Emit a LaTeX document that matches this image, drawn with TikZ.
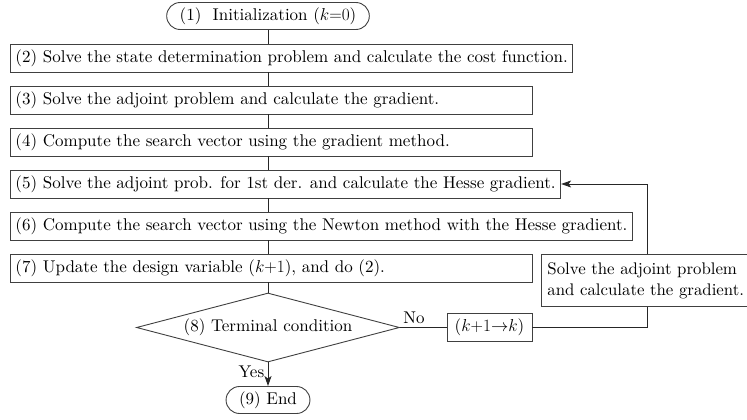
\documentclass[tikz,border=0pt]{standalone}
\usepackage{fontspec}
\setmainfont{lmroman10-regular.otf}[ItalicFont=lmroman10-italic.otf,BoldFont=lmroman10-bold.otf]
\usetikzlibrary{shapes.geometric,shapes.misc,arrows.meta}
% a step line: left aligned, padded to a common width unless it is longer
\newlength{\steplinewd}
\setlength{\steplinewd}{512pt}
\newcommand{\stepline}[1]{\setbox0=\hbox{#1}%
  \ifdim\wd0<\steplinewd \makebox[\steplinewd][l]{#1}\else\box0\fi}
\begin{document}
\begin{tikzpicture}[x=1pt,y=-1pt,
  font=\fontsize{17}{21}\selectfont,
  stepbox/.style={draw=black!75,line width=0.9pt,rectangle,anchor=west,
    minimum height=28pt,inner xsep=5pt,inner ysep=2pt},
  termbox/.style={draw=black!75,line width=0.9pt,rounded rectangle,
    minimum height=27pt,inner xsep=10pt},
  decide/.style={draw=black!75,line width=0.9pt,diamond,aspect=4,
    minimum width=263pt,minimum height=69pt,inner sep=0pt},
  link/.style={draw=black!85,line width=0.9pt},
  arr/.style={link,-{Stealth[length=10pt,width=7pt,inset=2.5pt]}}]
\useasboundingbox (0,0) rectangle (747,420);
\clip (0,0) rectangle (747,420);

% main column
\node[termbox] (n1) at (268,16) {(1)\ \ Initialization ($k{=}0$)};
\node[stepbox] (n2) at (10,58) {\stepline{(2) Solve the state determination problem and calculate the cost function.}};
\node[stepbox] (n3) at (10,100) {\stepline{(3) Solve the adjoint problem and calculate the gradient.}};
\node[stepbox] (n4) at (10,142) {\stepline{(4) Compute the search vector using the gradient method.}};
\node[stepbox] (n5) at (10,184) {\stepline{(5) Solve the adjoint prob. for 1st der. and calculate the Hesse gradient.}};
\node[stepbox] (n6) at (10,226) {\stepline{(6) Compute the search vector using the Newton method with the Hesse gradient.}};
\node[stepbox] (n7) at (10,268) {\stepline{(7) Update the design variable ($k{+}1$), and do (2).}};
\node[decide] (n8) at (268,327.5) {(8) Terminal condition};
\node[termbox] (n9) at (268,400) {(9) End};

% side branch
\node[stepbox,anchor=north west,align=left,minimum height=52pt,inner xsep=6pt,
  font=\fontsize{16.8}{21}\selectfont]
  (adj) at (541,254) {Solve the adjoint problem\\and calculate the gradient.};
\node[stepbox,anchor=center,minimum width=85pt] (inc) at (489.5,327.5) {($k{+}1{\rightarrow}k$)};
\coordinate (xr) at (647,0);

% connectors of the main column
\draw[link] (n1.south) -- (n1.south |- n2.north);
\draw[link] (n1.south |- n2.south) -- (n1.south |- n3.north);
\draw[link] (n1.south |- n3.south) -- (n1.south |- n4.north);
\draw[link] (n1.south |- n4.south) -- (n1.south |- n5.north);
\draw[link] (n1.south |- n5.south) -- (n1.south |- n6.north);
\draw[link] (n1.south |- n6.south) -- (n1.south |- n7.north);
\draw[link] (n1.south |- n7.south) -- (n8.north);
\draw[arr] (n8.south) -- node[left,pos=0.4] (yes) {Yes} (n9.north);

% loop back
\draw[link] (n8.east) -- node[above,pos=0.3] (no) {No} (inc.west);
\draw[link] (inc.east) -| (xr |- adj.south);
\draw[arr] (xr |- adj.north) |- (n5.east);
\end{tikzpicture}
\end{document}
